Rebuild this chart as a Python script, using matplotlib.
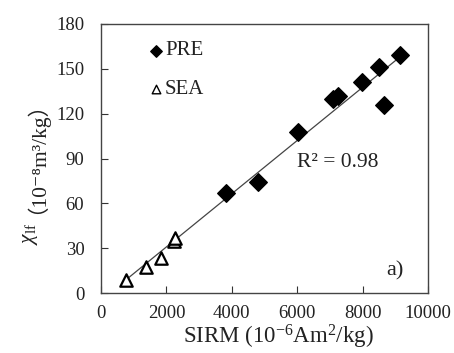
import numpy as np
import matplotlib
matplotlib.use("Agg")
import matplotlib.pyplot as plt

plt.rcParams['font.family'] = ['Liberation Serif', 'Noto Sans CJK SC', 'DejaVu Sans']
plt.rcParams['mathtext.fontset'] = 'custom'
plt.rcParams['mathtext.rm'] = 'Liberation Serif'
plt.rcParams['mathtext.it'] = 'Liberation Serif:italic'

pre_x = [3830, 4790, 6030, 7100, 7250, 7970, 8500, 8660, 9140]
pre_y = [67, 74, 108, 130, 132, 141, 151, 126, 159]
sea_x = [760, 1370, 1840, 2220, 2270]
sea_y = [9, 17.5, 23.5, 35, 37]
xticks = [0, 2000, 4000, 6000, 8000, 10000]
yticks = [0, 30, 60, 90, 120, 150, 180]

W, H = 454, 353
TXT = '#222222'
fig = plt.figure(figsize=(W/100, H/100), dpi=100)
ax = fig.add_axes([101/W, 1-293/H, (428-101)/W, (293-24)/H])

ax.scatter(pre_x, pre_y, marker='D', s=80, color='black', zorder=3)
ax.scatter(sea_x, sea_y, marker='^', s=80, facecolor='white', edgecolor='black', linewidths=1.6, zorder=3)

allx = np.array(pre_x + sea_x, dtype=float)
ally = np.array(pre_y + sea_y, dtype=float)
k, b = np.polyfit(allx, ally, 1)
xx = np.array([allx.min(), allx.max()])
ax.plot(xx, k*xx + b, color='#444444', lw=0.9, zorder=2)

ax.set_xlim(0, 10000)
ax.set_ylim(0, 180)
ax.set_xticks(xticks)
ax.set_yticks(yticks)
ax.tick_params(direction='in', length=5, labelsize=13.5, color='#333333', width=0.8,
               labelcolor=TXT)
ax.tick_params(axis='x', pad=9)
ax.tick_params(axis='y', pad=12)
for s in ax.spines.values():
    s.set_color('#444444')
    s.set_linewidth(1.0)

ax.set_xlabel(r'SIRM (10$^{-6}$Am$^2$/kg)', fontsize=16.5, color=TXT)
ax.xaxis.set_label_coords((278-101)/327, -(337-293)/269, transform=ax.transAxes)
ax.xaxis.label.set_va('center')

# y label: chi with subscript (mathtext), then the unit part as plain text
fig.canvas.draw()
renderer = fig.canvas.get_renderer()
base_x = 32.5
y0 = H - 245.0
t1 = fig.text(base_x, y0, r'$\chi_{\rm lf}$', fontsize=15.5, rotation=90,
              rotation_mode='anchor', ha='left', va='baseline', color=TXT, transform=None)
h1 = t1.get_window_extent(renderer=renderer).height
fig.text(base_x, y0 + h1 + 9, '（10⁻⁸m³/kg）', fontsize=15.5, rotation=90,
         rotation_mode='anchor', ha='left', va='baseline', color=TXT, transform=None,
         family=['Liberation Serif', 'Noto Sans CJK SC', 'DejaVu Sans'])

ax.scatter([1673], [162], marker='D', s=34, color='black')
ax.text(1957, 162, 'PRE', fontsize=15, va='center', ha='left', color=TXT)
ax.scatter([1673], [136.5], marker='^', s=38, facecolor='white', edgecolor='black', linewidths=1.0)
ax.text(1957, 136.5, 'SEA', fontsize=15, va='center', ha='left', color=TXT)

ax.text(6000, 87, 'R² = 0.98', fontsize=15.5, va='center', ha='left', color=TXT)
ax.text(9250, 15, 'a)', fontsize=16, va='center', ha='right', color=TXT)

fig.savefig('out.png', dpi=100)
